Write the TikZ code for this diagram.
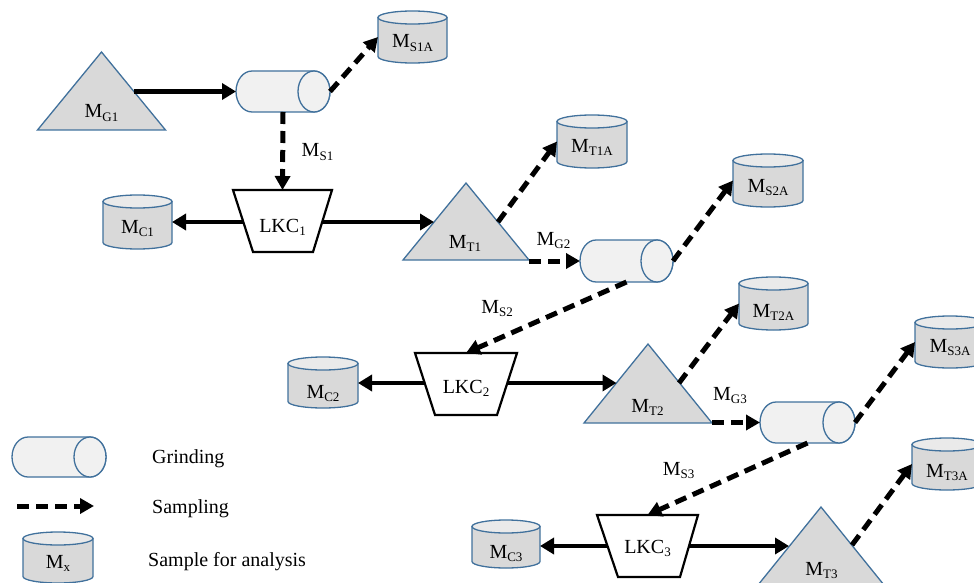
\documentclass[tikz,border=0pt]{standalone}
\usepackage{fontspec}
\setmainfont{Liberation Serif}
\usetikzlibrary{arrows.meta}
\definecolor{bord}{HTML}{41719C}
\definecolor{trifill}{HTML}{D9D9D9}
\definecolor{cylbodyc}{HTML}{D9D9D9}
\definecolor{cyltopc}{HTML}{EAEAEA}
\definecolor{grindc}{HTML}{F1F1F1}
\newcommand\sub[1]{\raisebox{-3.5pt}{\fontsize{13}{13}\selectfont #1}}
\tikzset{
  shapeline/.style={draw=bord, line width=1.3pt},
  box/.style={inner sep=0pt, outer sep=0pt, draw=none},
  lbl/.style={anchor=base, inner sep=0pt, font=\fontsize{20}{24}\selectfont},
  legtext/.style={anchor=base west, inner sep=0pt, font=\fontsize{20}{24}\selectfont},
  flow/.style={line width=4.5pt, -{Triangle[length=14pt,width=16pt]}},
  samp/.style={line width=5pt, dash pattern=on 12pt off 7pt, -{Triangle[length=14pt,width=15pt]}},
}
% vertical cylinder: name, x1, y1, x2, y2, label, label baseline
\newcommand\vcyl[7]{%
  \pgfmathsetmacro\Vcx{(#2+#4)/2}%
  \pgfmathsetmacro\Vrx{(#4-#2)/2}%
  \pgfmathsetmacro\Vyt{#3+6.5}%
  \pgfmathsetmacro\Vyb{#5-6.5}%
  \pgfmathsetmacro\Vka{\Vyb+3.6}%
  \pgfmathsetmacro\Vkl{\Vcx-0.5523*\Vrx}%
  \pgfmathsetmacro\Vkr{\Vcx+0.5523*\Vrx}%
  \pgfmathsetmacro\Vcy{(#3+#5)/2}%
  \pgfmathsetmacro\Vw{#4-#2}%
  \pgfmathsetmacro\Vh{#5-#3}%
  \path[shapeline, fill=cylbodyc] (#2,\Vyt) -- (#2,\Vyb) .. controls (#2,\Vka) and (\Vkl,#5) .. (\Vcx,#5) .. controls (\Vkr,#5) and (#4,\Vka) .. (#4,\Vyb) -- (#4,\Vyt) -- cycle;
  \path[shapeline, fill=cyltopc] (\Vcx,\Vyt) ellipse[x radius=\Vrx, y radius=6.5];
  \node[box, minimum width=\Vw, minimum height=\Vh] (#1) at (\Vcx,\Vcy) {};
  \node[lbl] (#1-t) at (\Vcx,#7) {#6};
}
% horizontal cylinder: name, x1, y1, x2, y2
\newcommand\hcyl[5]{%
  \pgfmathsetmacro\Hcy{(#3+#5)/2}%
  \pgfmathsetmacro\Hcx{(#2+#4)/2}%
  \pgfmathsetmacro\Hry{(#5-#3)/2}%
  \pgfmathsetmacro\Hxa{#2+16}%
  \pgfmathsetmacro\Hxb{#4-16}%
  \pgfmathsetmacro\Hka{#2+16-0.5523*16}%
  \pgfmathsetmacro\Hkb{#4-16+0.5523*16}%
  \pgfmathsetmacro\Hu{\Hcy-0.5523*\Hry}%
  \pgfmathsetmacro\Hd{\Hcy+0.5523*\Hry}%
  \pgfmathsetmacro\Hw{#4-#2}%
  \pgfmathsetmacro\Hh{#5-#3}%
  \path[shapeline, fill=grindc] (\Hxa,#3) -- (\Hxb,#3) .. controls (\Hkb,#3) and (#4,\Hu) .. (#4,\Hcy) .. controls (#4,\Hd) and (\Hkb,#5) .. (\Hxb,#5) -- (\Hxa,#5) .. controls (\Hka,#5) and (#2,\Hd) .. (#2,\Hcy) .. controls (#2,\Hu) and (\Hka,#3) .. (\Hxa,#3) -- cycle;
  \path[shapeline, fill=grindc] (\Hxb,\Hcy) ellipse[x radius=16, y radius=\Hry];
  \node[box, minimum width=\Hw, minimum height=\Hh] (#1) at (\Hcx,\Hcy) {};
}
% triangle: name, apex x, apex y, base y, half width, label, label x, label baseline
\newcommand\tri[8]{%
  \pgfmathsetmacro\Tl{#2-#5}%
  \pgfmathsetmacro\Tr{#2+#5}%
  \path[shapeline, fill=trifill] (#2,#3) -- (\Tr,#4) -- (\Tl,#4) -- cycle;
  \node[lbl] (#1) at (#7,#8) {#6};
}
% trapezium: name, top x1, top x2, top y, bottom x1, bottom x2, bottom y, label, label baseline
\newcommand\trap[9]{%
  \pgfmathsetmacro\Pcx{(#2+#3)/2}%
  \pgfmathsetmacro\Pcy{(#4+#7)/2}%
  \pgfmathsetmacro\Pw{#3-#2}%
  \pgfmathsetmacro\Ph{#7-#4}%
  \path[draw=black, line width=2.2pt, fill=white] (#2,#4) -- (#3,#4) -- (#6,#7) -- (#5,#7) -- cycle;
  \node[box, minimum width=\Pw, minimum height=\Ph] (#1) at (\Pcx,\Pcy) {};
  \node[lbl] (#1-t) at (\Pcx,#9) {#8};
}
\begin{document}
\begin{tikzpicture}[x=1pt,y=-1pt]
\useasboundingbox (0,0) rectangle (974,583);
\clip (0,0) rectangle (974,583);

% shapes
\tri{MG1}{101.5}{52}{130}{64}{M\sub{G1}}{101.5}{118}
\tri{MT1}{466}{183}{260}{63}{M\sub{T1}}{465}{248}
\tri{MT2}{648}{344}{423}{64}{M\sub{T2}}{647.5}{412}
\tri{MT3}{821}{507}{585}{63}{M\sub{T3}}{821.5}{575}

\hcyl{G1}{236}{71}{330}{112}
\hcyl{G2}{580}{240}{673}{282}
\hcyl{G3}{760}{402}{855}{443}
\hcyl{GL}{12}{437}{106}{477}

\vcyl{S1A}{378}{11}{447}{63}{M\sub{S1A}}{48}
\vcyl{C1}{103}{195}{172}{249}{M\sub{C1}}{233}
\vcyl{T1A}{557}{115}{627}{168}{M\sub{T1A}}{152}
\vcyl{S2A}{733}{154}{803}{207}{M\sub{S2A}}{192}
\vcyl{C2}{288}{357}{358}{408}{M\sub{C2}}{398}
\vcyl{T2A}{739}{277}{808}{330}{M\sub{T2A}}{317}
\vcyl{S3A}{915}{316}{985}{368}{M\sub{S3A}}{352}
\vcyl{T3A}{912}{438}{982}{490}{M\sub{T3A}}{477}
\vcyl{C3}{472}{520}{540}{568}{M\sub{C3}}{558}
\vcyl{MX}{23}{532}{93}{583}{M\sub{x}}{568}

\trap{LKC1}{233}{332}{190}{253}{313}{252}{LKC\sub{1}}{232}
\trap{LKC2}{415}{517}{353}{435}{497}{415}{LKC\sub{2}}{393}
\trap{LKC3}{597}{698}{515}{618}{680}{577}{LKC\sub{3}}{553}

% connector end points on slanted sides
\coordinate (MG1r) at (133.5,91.5);
\coordinate (MT1l) at (434,222);
\coordinate (MT1r) at (498,222);
\coordinate (MT1b) at (529,261);
\coordinate (MT2l) at (616.5,383);
\coordinate (MT2r) at (679,383);
\coordinate (MT2b) at (712,422.5);
\coordinate (MT3l) at (789,546);
\coordinate (MT3r) at (852,545);
\coordinate (LKC1l) at (243.3,222);
\coordinate (LKC1r) at (321.7,222);
\coordinate (LKC2l) at (424.7,383);
\coordinate (LKC2r) at (507.3,383);
\coordinate (LKC3l) at (607.5,546);
\coordinate (LKC3r) at (689,546);
\coordinate (LS) at (17,506);
\coordinate (LE) at (94,506);

% connectors
\draw[flow] (MG1r) -- (G1.west);
\draw[samp] (G1.east) -- (S1A.west);
\draw[samp] (G1.south) -- (LKC1.north);
\draw[flow] (LKC1l) -- (C1.east |- LKC1l);
\draw[flow] (LKC1r) -- (MT1l);
\draw[samp] (MT1r) -- (T1A.west);
\draw[samp] (MT1b) -- (G2.west);
\draw[samp] (G2.east) -- (S2A.west);
\draw[samp] (G2.south) -- (LKC2.north);
\draw[flow] (LKC2l) -- (C2.east |- LKC2l);
\draw[flow] (LKC2r) -- (MT2l);
\draw[samp] (MT2r) -- (T2A.west);
\draw[samp] (MT2b) -- (G3.west);
\draw[samp] (G3.east) -- (S3A.west);
\draw[samp] (G3.south) -- (LKC3.north);
\draw[flow] (LKC3l) -- (C3.east |- LKC3l);
\draw[flow] (LKC3r) -- (MT3l);
\draw[samp] (MT3r) -- (T3A.west);
\draw[samp] (LS) -- (LE);

% flow labels
\node[lbl] (lMS1) at (317.5,157) {M\sub{S1}};
\node[lbl] (lMG2) at (553.5,245) {M\sub{G2}};
\node[lbl] (lMS2) at (497,313) {M\sub{S2}};
\node[lbl] (lMG3) at (730,400) {M\sub{G3}};
\node[lbl] (lMS3) at (678.5,475) {M\sub{S3}};

% legend
\node[legtext] (tGrind) at (152,463) {Grinding};
\node[legtext] (tSamp) at (152,513) {Sampling};
\node[legtext] (tAnal) at (148,566) {Sample for analysis};
\end{tikzpicture}
\end{document}
